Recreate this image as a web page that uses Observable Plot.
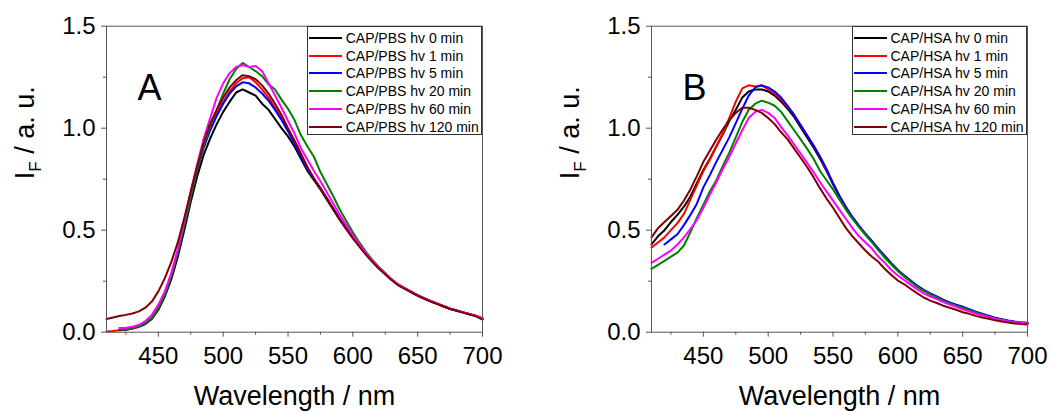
<!DOCTYPE html>
<html><head><meta charset="utf-8">
<script src="https://cdn.jsdelivr.net/npm/d3@7"></script>
<script src="https://cdn.jsdelivr.net/npm/@observablehq/plot@0.6"></script>
<style>
body{margin:0;background:#fff;}
#wrap{position:relative;width:1050px;height:412px;overflow:hidden;font-family:"Liberation Sans",Arial,sans-serif;}
.panel{position:absolute;top:0;}
.legend{position:absolute;top:25.7px;width:175.3px;height:109.3px;border:1px solid #333;background:#fff;box-sizing:border-box;}
.row{position:absolute;left:0;height:18px;width:100%;}
.sw{position:absolute;left:1.6px;top:8px;width:33px;height:2px;}
.lab{position:absolute;left:38px;top:0;font-size:14px;line-height:18px;color:#000;white-space:nowrap;}
</style></head>
<body><div id="wrap"></div>
<script>
const wavelengths = [410,415,420,425,430,435,440,445,450,455,460,465,470,475,480,485,490,495,500,505,510,515,520,525,530,535,540,545,550,555,560,565,570,575,580,585,590,595,600,605,610,615,620,625,630,635,640,645,650,655,660,665,670,675,680,685,690,695,700];

const colors = ["#000000","#ff0000","#0000ff","#008000","#ff00ff","#800000"];
const namesA = ["CAP/PBS hv 0 min","CAP/PBS hv 1 min","CAP/PBS hv 5 min","CAP/PBS hv 20 min","CAP/PBS hv 60 min","CAP/PBS hv 120 min"];
const namesB = ["CAP/HSA hv 0 min","CAP/HSA hv 1 min","CAP/HSA hv 5 min","CAP/HSA hv 20 min","CAP/HSA hv 60 min","CAP/HSA hv 120 min"];

// Panel A (CAP/PBS)
const a0 = [null,null,0.01,0.012,0.018,0.026,0.04,0.065,0.11,0.175,0.26,0.37,0.5,0.64,0.765,0.87,0.95,1.02,1.08,1.13,1.175,1.19,1.175,1.16,1.12,1.09,1.045,1.0,0.96,0.91,0.85,0.79,0.745,0.7,0.65,0.6,0.55,0.505,0.462,
  0.425,0.385,0.347,0.315,0.286,0.257,0.232,0.215,0.198,0.18,0.166,0.152,0.14,0.127,0.115,0.106,0.097,0.088,0.08,0.066];
const a1 = [0.004,0.006,0.01,0.013,0.018,0.028,0.045,0.07,0.12,0.19,0.285,0.4,0.535,0.675,0.805,0.915,1.0,1.07,1.13,1.18,1.22,1.245,1.25,1.225,1.19,1.15,1.1,1.05,0.99,0.93,0.865,0.8,0.752,0.705,0.655,0.605,0.555,0.51,0.466,
  0.425,0.385,0.347,0.315,0.286,0.257,0.232,0.215,0.198,0.18,0.166,0.152,0.14,0.127,0.115,0.106,0.097,0.088,0.08,0.066];
const a5 = [null,null,0.012,0.015,0.02,0.03,0.045,0.07,0.12,0.185,0.275,0.39,0.525,0.665,0.795,0.905,0.99,1.06,1.12,1.17,1.205,1.225,1.22,1.2,1.17,1.135,1.09,1.04,0.985,0.925,0.86,0.8,0.75,0.705,0.655,0.605,0.555,0.51,0.466,
  0.425,0.385,0.347,0.315,0.286,0.257,0.232,0.215,0.198,0.18,0.166,0.152,0.14,0.127,0.115,0.106,0.097,0.088,0.08,0.066];
const a20 = [null,null,0.012,0.015,0.02,0.03,0.045,0.07,0.12,0.185,0.275,0.39,0.525,0.665,0.8,0.915,1.01,1.09,1.17,1.24,1.29,1.32,1.3,1.28,1.255,1.215,1.19,1.14,1.095,1.04,0.965,0.91,0.86,0.785,0.725,0.665,0.6,0.545,0.49,
  0.44,0.395,0.355,0.32,0.29,0.259,0.234,0.216,0.199,0.181,0.167,0.153,0.14,0.127,0.115,0.106,0.097,0.088,0.08,0.066];
const a60 = [null,null,0.02,0.022,0.027,0.035,0.055,0.085,0.135,0.2,0.29,0.405,0.545,0.69,0.825,0.95,1.05,1.15,1.22,1.27,1.3,1.31,1.3,1.305,1.28,1.22,1.16,1.1,1.035,0.975,0.9,0.845,0.79,0.74,0.685,0.63,0.575,0.525,0.475,
  0.43,0.39,0.35,0.317,0.288,0.259,0.234,0.216,0.199,0.181,0.167,0.153,0.141,0.128,0.116,0.107,0.098,0.089,0.081,0.07];
const a120 = [0.065,0.072,0.079,0.085,0.092,0.102,0.12,0.15,0.2,0.265,0.345,0.44,0.56,0.69,0.815,0.93,1.025,1.09,1.15,1.2,1.235,1.26,1.255,1.24,1.21,1.17,1.12,1.065,1.0,0.94,0.875,0.81,0.755,0.705,0.655,0.6,0.55,0.505,0.46,
  0.42,0.38,0.345,0.312,0.283,0.255,0.23,0.212,0.195,0.178,0.164,0.15,0.138,0.126,0.114,0.105,0.096,0.087,0.078,0.062];

// Panel B (CAP/HSA)
const b0 = [0.43,0.47,0.5,0.54,0.575,0.615,0.665,0.73,0.795,0.85,0.91,0.97,1.035,1.09,1.15,1.18,1.19,1.19,1.18,1.16,1.13,1.095,1.055,1.005,0.955,0.905,0.85,0.79,0.725,0.665,0.61,0.56,0.52,0.48,0.445,0.405,0.37,0.335,0.302,
  0.275,0.25,0.225,0.205,0.188,0.172,0.157,0.143,0.132,0.122,0.11,0.098,0.088,0.078,0.068,0.062,0.055,0.05,0.047,0.045];
const b1 = [0.415,0.44,0.465,0.5,0.535,0.58,0.65,0.72,0.79,0.845,0.91,0.975,1.05,1.13,1.195,1.21,1.205,1.21,1.19,1.17,1.14,1.105,1.065,1.015,0.965,0.915,0.86,0.795,0.73,0.668,0.612,0.562,0.52,0.48,0.445,0.405,0.37,0.335,0.302,
  0.275,0.25,0.225,0.205,0.188,0.172,0.157,0.143,0.132,0.122,0.11,0.098,0.088,0.078,0.068,0.062,0.055,0.05,0.047,0.045];
const b5 = [null,null,0.43,0.455,0.48,0.525,0.575,0.63,0.71,0.77,0.835,0.895,0.955,1.025,1.095,1.16,1.2,1.21,1.2,1.18,1.15,1.11,1.065,1.015,0.965,0.915,0.86,0.8,0.73,0.668,0.612,0.565,0.522,0.483,0.448,0.41,0.374,0.338,0.305,
  0.278,0.253,0.228,0.208,0.19,0.175,0.16,0.146,0.135,0.125,0.113,0.101,0.091,0.081,0.071,0.064,0.057,0.052,0.048,0.046];
const b20 = [0.31,0.33,0.35,0.37,0.39,0.425,0.49,0.56,0.625,0.69,0.745,0.815,0.88,0.955,1.03,1.09,1.12,1.135,1.125,1.11,1.08,1.035,0.99,0.945,0.9,0.85,0.79,0.745,0.7,0.65,0.6,0.555,0.515,0.477,0.44,0.402,0.365,0.332,0.3,
  0.272,0.248,0.222,0.203,0.185,0.17,0.155,0.141,0.13,0.12,0.108,0.097,0.087,0.077,0.067,0.061,0.054,0.049,0.046,0.044];
const b60 = [0.34,0.36,0.38,0.4,0.43,0.465,0.505,0.55,0.61,0.675,0.735,0.8,0.86,0.925,0.99,1.05,1.08,1.09,1.075,1.05,1.005,0.965,0.92,0.875,0.83,0.785,0.735,0.69,0.645,0.6,0.555,0.51,0.47,0.44,0.41,0.37,0.34,0.305,0.278,
  0.255,0.232,0.21,0.19,0.175,0.162,0.148,0.136,0.125,0.112,0.102,0.092,0.083,0.075,0.066,0.06,0.054,0.05,0.046,0.044];
const b120 = [0.465,0.51,0.54,0.57,0.6,0.645,0.7,0.765,0.835,0.89,0.945,0.995,1.04,1.075,1.1,1.1,1.09,1.075,1.05,1.02,0.98,0.945,0.9,0.855,0.81,0.76,0.705,0.655,0.61,0.56,0.51,0.47,0.435,0.4,0.37,0.345,0.31,0.28,0.253,
  0.235,0.212,0.19,0.17,0.155,0.143,0.13,0.12,0.11,0.098,0.09,0.08,0.072,0.066,0.058,0.052,0.047,0.043,0.04,0.038];

const xTicks = [450,500,550,600,650,700];
const xMinor = [425,475,525,575,625,675];
const yTicks = [0,0.5,1.0,1.5];
const yMinor = [0.25,0.75,1.25];
const xTitle = "Wavelength / nm";
const yTitle = "IF / a. u.";

const FONT = '"Liberation Sans", Arial, sans-serif';
const W = 505, H = 412, ML = 106, MT = 25.7, MB = 80.3, MR = W - 482;

function makePanel(series, names, letter) {
  const data = [];
  series.forEach((vals, si) => vals.forEach((v, i) => {
    if (v != null) data.push({wl: wavelengths[i], v, s: names[si]});
  }));
  const svg = Plot.plot({
    width: W, height: H,
    marginLeft: ML, marginRight: MR, marginTop: MT, marginBottom: MB,
    x: {domain: [410, 700]},
    y: {domain: [0, 1.5]},
    color: {domain: names, range: colors},
    style: {fontFamily: FONT, color: "#000", background: "transparent", overflow: "visible"},
    marks: [
      Plot.line(data, {x: "wl", y: "v", z: "s", stroke: "s", strokeWidth: 2, strokeLinejoin: "round"}),
      Plot.frame({stroke: "#555", strokeWidth: 1}),
      Plot.axisX({ticks: xTicks, tickSize: 5, tickPadding: 10, fontSize: 24, label: null, stroke: "#555", fill: "#000", tickFormat: d => d}),
      Plot.axisX({ticks: xMinor, tickSize: 3, text: null, label: null, stroke: "#555"}),
      Plot.axisY({ticks: yTicks, tickSize: 5, tickPadding: 6, fontSize: 24, label: null, stroke: "#555", fill: "#000", tickFormat: d3.format(".1f")}),
      Plot.axisY({ticks: yMinor, tickSize: 3, text: null, label: null, stroke: "#555"}),
      Plot.text([xTitle], {text: d => d, frameAnchor: "bottom", dy: 72.5, lineAnchor: "bottom", fontSize: 27, fill: "#000"}),
      Plot.text([yTitle], {text: d => d, frameAnchor: "left", dx: -81, rotate: -90, fontSize: 27, fill: "#000", lineAnchor: "middle"}),
      Plot.text([letter], {text: d => d, frameAnchor: "top-left", dx: 31, dy: 73.5, textAnchor: "start", lineAnchor: "bottom", fontSize: 36, fill: "#000"})
    ]
  });
  // subscript F in the y title
  d3.select(svg).selectAll("text").filter(function() { return this.textContent === yTitle; })
    .each(function() {
      const t = d3.select(this);
      t.attr("y", null);
      t.text(null);
      t.append("tspan").text("I");
      t.append("tspan").attr("font-size", 17).attr("dy", 7).text("F");
      t.append("tspan").attr("dy", -7).text(" / a. u.");
      t.attr("dy", "0.32em");
    });
  return svg;
}

function makeLegend(names, left) {
  const lg = document.createElement("div");
  lg.className = "legend";
  lg.style.left = left + "px";
  names.forEach((n, i) => {
    const r = document.createElement("div");
    r.className = "row";
    r.style.top = (2 + i * 17.9) + "px";
    const sw = document.createElement("div");
    sw.className = "sw"; sw.style.background = colors[i];
    const lb = document.createElement("div");
    lb.className = "lab"; lb.textContent = n;
    r.appendChild(sw); r.appendChild(lb);
    lg.appendChild(r);
  });
  return lg;
}

const wrap = document.getElementById("wrap");
const offsets = [0, 544.8];
[[ [a0,a1,a5,a20,a60,a120], namesA, "A" ], [ [b0,b1,b5,b20,b60,b120], namesB, "B" ]].forEach(([ser, names, letter], k) => {
  const div = document.createElement("div");
  div.className = "panel";
  div.style.left = offsets[k] + "px";
  div.appendChild(makePanel(ser, names, letter));
  wrap.appendChild(div);
  wrap.appendChild(makeLegend(names, offsets[k] + 306.7));
});
</script>
</body></html>
